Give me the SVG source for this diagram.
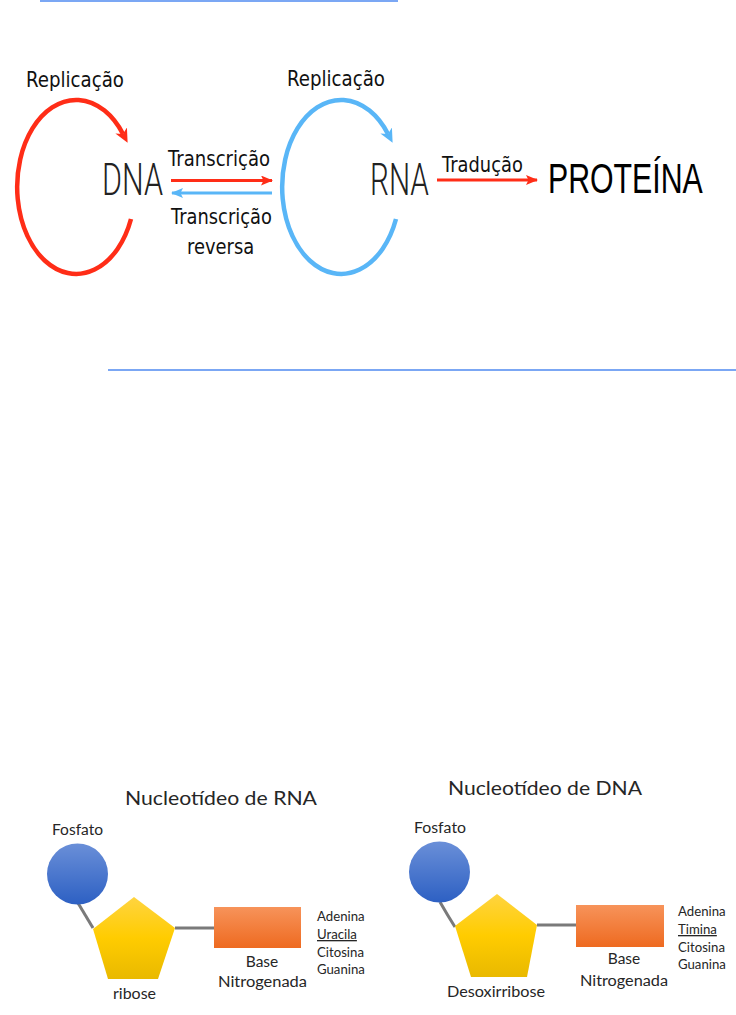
<svg xmlns="http://www.w3.org/2000/svg" width="736" height="1015" viewBox="0 0 736 1015">
<style>
.lbl{font-family:"DejaVu Sans","Liberation Sans",sans-serif;font-size:22px;fill:#111}
.thin{font-family:Roboto,"Liberation Sans",sans-serif;font-weight:300;font-size:45px;fill:#222}
.big{font-family:"Liberation Sans",Arial,sans-serif;font-size:42px;fill:#000}
.cal{font-family:Lato,"Liberation Sans",sans-serif;fill:#262626}
.t{font-size:20px}
.m{font-size:15.5px}
.s{font-size:13.2px}
.gray{stroke:#7a7a7a;stroke-width:3;fill:none}
.sep{stroke:#4f8af0;stroke-width:1.5}
</style>
<defs>
<marker id="hr" viewBox="0 0 14 14" refX="4" refY="7" markerWidth="14" markerHeight="14" markerUnits="userSpaceOnUse" orient="auto"><path d="M0,0.5 L14,7 L0,13.5 L4,7 z" fill="#ff2d17"/></marker>
<marker id="hb" viewBox="0 0 14 14" refX="4" refY="7" markerWidth="14" markerHeight="14" markerUnits="userSpaceOnUse" orient="auto"><path d="M0,0.5 L14,7 L0,13.5 L4,7 z" fill="#59b6f7"/></marker>
<marker id="sr" viewBox="0 0 12 10" refX="11" refY="5" markerWidth="12" markerHeight="10" markerUnits="userSpaceOnUse" orient="auto"><path d="M0,0 L12,5 L0,10 L2.5,5 z" fill="#ff2d17"/></marker>
<marker id="sb" viewBox="0 0 12 10" refX="11" refY="5" markerWidth="12" markerHeight="10" markerUnits="userSpaceOnUse" orient="auto"><path d="M0,0 L12,5 L0,10 L2.5,5 z" fill="#59b6f7"/></marker>
<linearGradient id="gBlue" x1="0" y1="0" x2="0" y2="1"><stop offset="0" stop-color="#6a8fd8"/><stop offset="1" stop-color="#2d60c3"/></linearGradient>
<linearGradient id="gGold" x1="0" y1="0" x2="0" y2="1"><stop offset="0" stop-color="#ffd440"/><stop offset="0.5" stop-color="#ffcc00"/><stop offset="1" stop-color="#e9b900"/></linearGradient>
<linearGradient id="gOr" x1="0" y1="0" x2="0" y2="1"><stop offset="0" stop-color="#f7935a"/><stop offset="1" stop-color="#ee6a20"/></linearGradient>
</defs>

<line class="sep" x1="40" y1="1" x2="398" y2="1"/>
<line class="sep" x1="108" y1="370" x2="736" y2="370"/>

<g id="connectors">
<path d="M131 219 A59 87 0 1 1 123 134" fill="none" stroke="#ff2d17" stroke-width="4.5" marker-end="url(#hr)"/>
<path d="M396 219 A59 87 0 1 1 388 134" fill="none" stroke="#59b6f7" stroke-width="4.5" marker-end="url(#hb)"/>
<line x1="171" y1="180.5" x2="272" y2="180.5" stroke="#ff2d17" stroke-width="3" marker-end="url(#sr)"/>
<line x1="272" y1="193" x2="172" y2="193" stroke="#59b6f7" stroke-width="3" marker-end="url(#sb)"/>
<line x1="437" y1="180" x2="537" y2="180" stroke="#ff2d17" stroke-width="3" marker-end="url(#sr)"/>
<line class="gray" x1="78" y1="903" x2="93" y2="928"/>
<line class="gray" x1="175" y1="928" x2="214" y2="928"/>
<path class="gray" d="M440 902 Q448 916 455 927"/>
<line class="gray" x1="537" y1="925" x2="576" y2="925"/>
</g>

<g id="labels-top">
<text class="lbl" transform="translate(26,87) scale(0.8,1)" x="0" y="0" textLength="122.5" lengthAdjust="spacingAndGlyphs">Replicação</text>
<text class="lbl" transform="translate(287,86) scale(0.8,1)" x="0" y="0" textLength="122.5" lengthAdjust="spacingAndGlyphs">Replicação</text>
<text class="lbl" transform="translate(168,166) scale(0.8,1)" x="0" y="0" textLength="127.5" lengthAdjust="spacingAndGlyphs">Transcrição</text>
<text class="lbl" transform="translate(171,224) scale(0.8,1)" x="0" y="0" textLength="126" lengthAdjust="spacingAndGlyphs">Transcrição</text>
<text class="lbl" transform="translate(187,254) scale(0.8,1)" x="0" y="0" textLength="84" lengthAdjust="spacingAndGlyphs">reversa</text>
<text class="lbl" transform="translate(442,172) scale(0.8,1)" x="0" y="0" textLength="101" lengthAdjust="spacingAndGlyphs">Tradução</text>
</g>

<g id="dna"><text class="thin" transform="translate(102,195) scale(0.67,1)" x="0" y="0" textLength="91" lengthAdjust="spacingAndGlyphs">DNA</text></g>
<g id="rna"><text class="thin" transform="translate(370,195) scale(0.67,1)" x="0" y="0" textLength="88" lengthAdjust="spacingAndGlyphs">RNA</text></g>
<g id="proteina"><text class="big" transform="translate(548,193) scale(0.72,1)" x="0" y="0" textLength="215" lengthAdjust="spacingAndGlyphs">PROTEÍNA</text></g>

<g id="rna-nucleotide">
<text class="cal t" x="125" y="805" textLength="192" lengthAdjust="spacingAndGlyphs">Nucleotídeo de RNA</text>
<g id="rna-fosfato">
<circle cx="77.5" cy="874" r="30.5" fill="url(#gBlue)"/>
<text class="cal m" x="52" y="835" textLength="51" lengthAdjust="spacingAndGlyphs">Fosfato</text>
</g>
<g id="rna-ribose">
<polygon points="134,897 175,928 158,979 108,979 93,929" fill="url(#gGold)"/>
<text class="cal m" x="113" y="999" textLength="43" lengthAdjust="spacingAndGlyphs">ribose</text>
</g>
<g id="rna-base">
<rect x="214" y="907" width="87" height="41" fill="url(#gOr)"/>
<text class="cal m" x="262" y="967" text-anchor="middle">Base</text>
<text class="cal m" x="218" y="987" textLength="89" lengthAdjust="spacingAndGlyphs">Nitrogenada</text>
</g>
<g id="rna-bases">
<text class="cal s" x="317" y="921">Adenina</text>
<text class="cal s" x="317" y="939" text-decoration="underline">Uracila</text>
<text class="cal s" x="317" y="957">Citosina</text>
<text class="cal s" x="317" y="974">Guanina</text>
</g>
</g>

<g id="dna-nucleotide">
<text class="cal t" x="448" y="795" textLength="194" lengthAdjust="spacingAndGlyphs">Nucleotídeo de DNA</text>
<g id="dna-fosfato">
<circle cx="439.5" cy="872" r="30.5" fill="url(#gBlue)"/>
<text class="cal m" x="414" y="833" textLength="52" lengthAdjust="spacingAndGlyphs">Fosfato</text>
</g>
<g id="dna-desoxirribose">
<polygon points="497,894 537,925 527,977 471,977 455,926" fill="url(#gGold)"/>
<text class="cal m" x="447" y="997" textLength="98" lengthAdjust="spacingAndGlyphs">Desoxirribose</text>
</g>
<g id="dna-base">
<rect x="576" y="905" width="88" height="42" fill="url(#gOr)"/>
<text class="cal m" x="624" y="964" text-anchor="middle">Base</text>
<text class="cal m" x="580" y="986" textLength="88" lengthAdjust="spacingAndGlyphs">Nitrogenada</text>
</g>
<g id="dna-bases">
<text class="cal s" x="678" y="916">Adenina</text>
<text class="cal s" x="678" y="934" text-decoration="underline">Timina</text>
<text class="cal s" x="678" y="952">Citosina</text>
<text class="cal s" x="678" y="969">Guanina</text>
</g>
</g>
</svg>
